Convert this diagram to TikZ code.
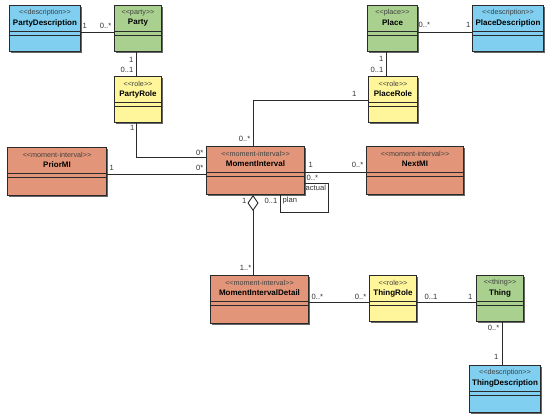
\documentclass[tikz,border=0pt]{standalone}
\usepackage{fontspec}
\setmainfont{Liberation Sans}
\usetikzlibrary{shadows,calc,arrows.meta}
\definecolor{cblue}{HTML}{80CFF0}
\definecolor{cgreen}{HTML}{A9D08E}
\definecolor{cyellow}{HTML}{FFF59A}
\definecolor{csalmon}{HTML}{E29578}
\definecolor{cline}{HTML}{2A2A2A}
\newcommand\sopen{<\kern0pt<}
\newcommand\sclose{>\kern0pt>}
\tikzset{
 umlbox/.style={draw=cline, line width=1pt, rectangle, inner sep=0pt, anchor=north west,
   drop shadow={shadow xshift=1.6pt, shadow yshift=-1.6pt, fill=black!60, opacity=1}},
 stereo/.style={font=\fontsize{7.2}{8}\selectfont, text=black!75, inner sep=0pt},
 ctitle/.style={font=\fontsize{8}{9}\selectfont\bfseries, inner sep=0pt},
 mult/.style={font=\fontsize{7.6}{8}\selectfont, text=black!80, inner sep=0.5pt},
 conn/.style={draw=cline, line width=0.9pt},
 divider/.style={draw=cline, line width=0.8pt},
}
% name, x1, y1, x2, y2, colour, stereotype, title
\newcommand\umlclass[8]{%
 \node[umlbox, fill=#6, minimum width=#4pt-#2pt, minimum height=#5pt-#3pt] (#1) at (#2,#3) {};
 \draw[divider] ($(#1.north west)+(0,26)$) -- ($(#1.north east)+(0,26)$);
 \draw[divider] ($(#1.north west)+(0,30)$) -- ($(#1.north east)+(0,30)$);
 \node[stereo] (#1-s) at ($(#1.north)+(0,7.5)$) {\sopen#7\sclose};
 \node[ctitle] (#1-t) at ($(#1.north)+(0,18)$) {#8};
}
\begin{document}
\begin{tikzpicture}[x=1pt,y=-1pt]
\useasboundingbox[fill=white] (0,0) rectangle (550,417);

\umlclass{PD}{9}{5}{80}{51}{cblue}{description}{PartyDescription}
\umlclass{Party}{114}{5}{161}{51}{cgreen}{party}{Party}
\umlclass{PartyRole}{114}{76}{161}{122}{cyellow}{role}{PartyRole}
\umlclass{Place}{367}{5}{417}{51}{cgreen}{place}{Place}
\umlclass{PlaceDesc}{472}{5}{543}{51}{cblue}{description}{PlaceDescription}
\umlclass{PlaceRole}{368}{76}{417}{122}{cyellow}{role}{PlaceRole}
\umlclass{PriorMI}{7}{147}{106}{195}{csalmon}{moment-interval}{PriorMI}
\umlclass{MI}{206}{146}{304}{194}{csalmon}{moment-interval}{MomentInterval}
\umlclass{NextMI}{366}{146}{463}{194}{csalmon}{moment-interval}{NextMI}
\umlclass{MID}{210}{275}{308}{323}{csalmon}{moment-interval}{MomentIntervalDetail}
\umlclass{ThingRole}{369}{275}{416}{321}{cyellow}{role}{ThingRole}
\umlclass{Thing}{476}{275}{523}{321}{cgreen}{thing}{Thing}
\umlclass{ThingDesc}{469}{365}{540}{412}{cblue}{description}{ThingDescription}

% connectors
\draw[conn] ($(PD.north east)+(0,27)$) -- ($(Party.north west)+(0,27)$);
\draw[conn] ($(Party.south west)+(22,0)$) -- ($(PartyRole.north west)+(22,0)$);
\draw[conn] ($(PartyRole.south west)+(22,0)$) |- ($(MI.north west)+(0,11)$);
\draw[conn] ($(PriorMI.north east)+(0,27)$) -- ($(MI.north west)+(0,28)$);
\draw[conn] ($(Place.north east)+(0,27)$) -- ($(PlaceDesc.north west)+(0,27)$);
\draw[conn] ($(Place.south west)+(19,0)$) -- ($(PlaceRole.north west)+(18,0)$);
\draw[conn] ($(PlaceRole.north west)+(0,24)$) -| ($(MI.north west)+(47,0)$);
\draw[conn] ($(MI.north east)+(0,26)$) -- ($(NextMI.north west)+(0,26)$);
\draw[conn] ($(MI.north east)+(0,37)$) -| ($(MI.south west)+(122,17)$) -| ($(MI.south west)+(74,0)$);
\draw[conn, -{Diamond[open, fill=white, length=16pt, width=11pt, line width=0.9pt]}]
  ($(MID.north west)+(43,0)$) -- ($(MI.south west)+(47,0)$);
\draw[conn] ($(MID.north east)+(0,27)$) -- ($(ThingRole.north west)+(0,27)$);
\draw[conn] ($(ThingRole.north east)+(0,27)$) -- ($(Thing.north west)+(0,27)$);
\draw[conn] ($(Thing.south west)+(26,0)$) -- ($(ThingDesc.north west)+(33,0)$);

% multiplicities and role names
\node[mult, anchor=west] (m1) at (82,26) {1};
\node[mult, anchor=east] (m2) at (112,26) {0..*};
\node[mult, anchor=east] (m3) at (134,60) {1};
\node[mult, anchor=east] (m4) at (134,70) {0..1};
\node[mult, anchor=east] (m5) at (135,128) {1};
\node[mult, anchor=east] (m6) at (204,153) {0*};
\node[mult, anchor=west] (m7) at (109,168) {1};
\node[mult, anchor=east] (m8) at (204,168) {0*};
\node[mult, anchor=east] (m9) at (357,94) {1};
\node[mult, anchor=east] (m10) at (251,139) {0..*};
\node[mult, anchor=east] (m11) at (384,59) {1};
\node[mult, anchor=east] (m12) at (384,70) {0..1};
\node[mult, anchor=west] (m13) at (418,25) {0..*};
\node[mult, anchor=east] (m14) at (471,25) {1};
\node[mult, anchor=west] (m15) at (308,165) {1};
\node[mult, anchor=east] (m16) at (364,165) {0..*};
\node[mult, anchor=west] (m17) at (306,178) {0..*};
\node[mult, anchor=west] (m18) at (305,188) {actual};
\node[mult, anchor=east] (m19) at (278,201) {0..1};
\node[mult, anchor=west] (m20) at (282,201) {plan};
\node[mult, anchor=east] (m21) at (247,201) {1};
\node[mult, anchor=east] (m22) at (252,268) {1..*};
\node[mult, anchor=west] (m23) at (311,297) {0..*};
\node[mult, anchor=east] (m24) at (367,297) {0..*};
\node[mult, anchor=west] (m25) at (424,297) {0..1};
\node[mult, anchor=east] (m26) at (473,297) {1};
\node[mult, anchor=east] (m27) at (500,328) {0..*};
\node[mult, anchor=east] (m28) at (499,357) {1};
\end{tikzpicture}
\end{document}
